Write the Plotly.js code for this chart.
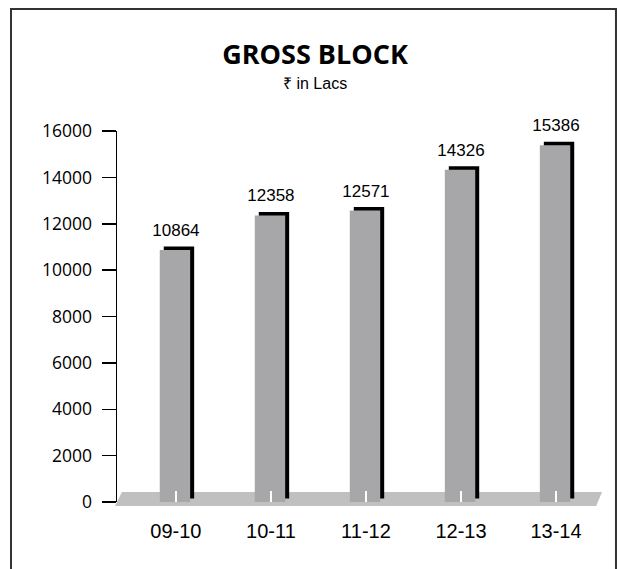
<!DOCTYPE html>
<html>
<head>
<meta charset="utf-8">
<script src="https://cdn.plot.ly/plotly-3.0.1.min.js"></script>
<style>
html,body{margin:0;padding:0;background:#fff;}
#chart{width:625px;height:569px;}
</style>
</head>
<body>
<div id="chart"></div>
<script>
const categories = ["09-10", "10-11", "11-12", "12-13", "13-14"];
const grossBlock = [10864, 12358, 12571, 14326, 15386];
const yTickValues = [0, 2000, 4000, 6000, 8000, 10000, 12000, 14000, 16000];
const chartTitle = "GROSS BLOCK";
const chartSubtitle = "₹ in Lacs";

const barWidth = 0.32;

const shadowTrace = {
  type: "bar",
  x: categories,
  y: grossBlock,
  base: 150,
  width: barWidth,
  offset: -barWidth / 2 + 0.032,
  marker: {color: "#000000", line: {width: 0}},
  hoverinfo: "skip",
  showlegend: false
};

const barTrace = {
  type: "bar",
  x: categories,
  y: grossBlock,
  width: barWidth,
  offset: -barWidth / 2 - 0.01,
  marker: {color: "#a7a7a9", line: {width: 0}},
  showlegend: false
};

const labelTrace = {
  type: "scatter",
  mode: "markers+text",
  x: categories,
  y: grossBlock,
  text: grossBlock.map(String),
  textposition: "top center",
  marker: {size: 14, color: "rgba(0,0,0,0)"},
  textfont: {family: "Liberation Sans, Arial, sans-serif", size: 17, color: "#000"},
  cliponaxis: false,
  showlegend: false,
  hoverinfo: "skip"
};

const layout = {
  width: 625,
  height: 569,
  margin: {l: 117, r: 12, t: 131, b: 67},
  paper_bgcolor: "#ffffff",
  plot_bgcolor: "rgba(0,0,0,0)",
  barmode: "overlay",
  showlegend: false,
  title: {
    text: chartTitle,
    font: {family: "Open Sans, sans-serif", size: 27, color: "#000", weight: "bold"},
    x: 0.504, xref: "container", xanchor: "center",
    y: 1 - 55 / 569, yref: "container", yanchor: "middle"
  },
  xaxis: {
    type: "category",
    range: [-0.62, 4.6],
    showline: false,
    showgrid: false,
    zeroline: false,
    ticks: "inside",
    ticklen: 11,
    tickwidth: 2,
    tickcolor: "#ffffff",
    ticklabelstandoff: 15,
    tickfont: {family: "Liberation Sans, Arial, sans-serif", size: 20, color: "#000"},
    fixedrange: true
  },
  yaxis: {
    range: [0, 16000],
    tickvals: yTickValues,
    ticktext: yTickValues.map(String),
    showline: true,
    linecolor: "#000",
    linewidth: 1.5,
    showgrid: false,
    zeroline: false,
    ticks: "outside",
    ticklen: 14,
    tickwidth: 1.5,
    tickcolor: "#000",
    ticklabelstandoff: 6,
    tickfont: {family: "Open Sans, sans-serif", size: 17.5, color: "#000"},
    fixedrange: true
  },
  shapes: [
    {
      type: "path",
      xref: "paper", yref: "paper",
      path: "M -0.004 -0.0108 L 0.010 0.027 L 0.978 0.027 L 0.966 -0.0108 Z",
      fillcolor: "#c0c0c0",
      line: {width: 0},
      layer: "below"
    },
    {
      type: "rect",
      xref: "paper", yref: "paper",
      x0: -0.2137, x1: 1.006,
      y0: -0.25, y1: 1.3288,
      line: {color: "#333333", width: 2},
      fillcolor: "rgba(0,0,0,0)",
      layer: "below"
    }
  ],
  annotations: [
    {
      text: chartSubtitle,
      xref: "paper", yref: "paper",
      x: 0.399, y: 1.129,
      xanchor: "center", yanchor: "middle",
      showarrow: false,
      font: {family: "Liberation Sans, Arial, sans-serif", size: 16, color: "#000"}
    }
  ]
};

Plotly.newPlot("chart", [shadowTrace, barTrace, labelTrace], layout, {displayModeBar: false, staticPlot: true});
</script>
</body>
</html>
